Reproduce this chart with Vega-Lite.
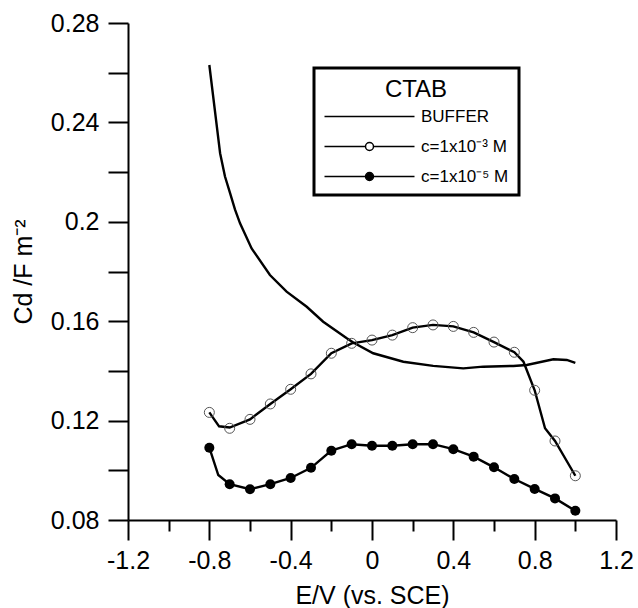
{
  "$schema": "https://vega.github.io/schema/vega-lite/v6.json",
  "width": 488,
  "height": 497,
  "autosize": {"type": "none"},
  "padding": {"left": 128, "top": 23, "right": 22, "bottom": 88},
  "config": {
    "view": {"stroke": null},
    "font": "Liberation Sans",
    "legend": {"strokeWidth": 3},
    "axis": {
      "domainColor": "black", "domainWidth": 2, "tickColor": "black", "tickWidth": 2,
      "labelColor": "black", "titleColor": "black", "labelFontSize": 25, "titleFontSize": 25,
      "titleFontWeight": "normal", "grid": false, "labelFont": "Liberation Sans", "titleFont": "Liberation Sans",
      "labelOverlap": false, "labelFlush": false
    }
  },
  "datasets": {
    "curves": [
      {"series": "BUFFER", "E": -0.8, "C": 0.2631},
      {"series": "BUFFER", "E": -0.747, "C": 0.2276},
      {"series": "BUFFER", "E": -0.723, "C": 0.2182},
      {"series": "BUFFER", "E": -0.698, "C": 0.2115},
      {"series": "BUFFER", "E": -0.674, "C": 0.205},
      {"series": "BUFFER", "E": -0.649, "C": 0.1994},
      {"series": "BUFFER", "E": -0.592, "C": 0.1893},
      {"series": "BUFFER", "E": -0.502, "C": 0.1786},
      {"series": "BUFFER", "E": -0.42, "C": 0.1719},
      {"series": "BUFFER", "E": -0.321, "C": 0.1658},
      {"series": "BUFFER", "E": -0.24, "C": 0.1598},
      {"series": "BUFFER", "E": -0.124, "C": 0.1531},
      {"series": "BUFFER", "E": -0.092, "C": 0.1514},
      {"series": "BUFFER", "E": 0.006, "C": 0.1471},
      {"series": "BUFFER", "E": 0.154, "C": 0.1437},
      {"series": "BUFFER", "E": 0.301, "C": 0.142},
      {"series": "BUFFER", "E": 0.449, "C": 0.141},
      {"series": "BUFFER", "E": 0.547, "C": 0.1417},
      {"series": "BUFFER", "E": 0.695, "C": 0.142},
      {"series": "BUFFER", "E": 0.761, "C": 0.1424},
      {"series": "BUFFER", "E": 0.892, "C": 0.1447},
      {"series": "BUFFER", "E": 0.958, "C": 0.1444},
      {"series": "BUFFER", "E": 1.0, "C": 0.1432},
      {"series": "c=1x10⁻³ M", "E": -0.8, "C": 0.1233},
      {"series": "c=1x10⁻³ M", "E": -0.752, "C": 0.1177},
      {"series": "c=1x10⁻³ M", "E": -0.7, "C": 0.1172},
      {"series": "c=1x10⁻³ M", "E": -0.6, "C": 0.1205},
      {"series": "c=1x10⁻³ M", "E": -0.5, "C": 0.1267},
      {"series": "c=1x10⁻³ M", "E": -0.4, "C": 0.1326},
      {"series": "c=1x10⁻³ M", "E": -0.3, "C": 0.1388},
      {"series": "c=1x10⁻³ M", "E": -0.2, "C": 0.1471},
      {"series": "c=1x10⁻³ M", "E": -0.1, "C": 0.1511},
      {"series": "c=1x10⁻³ M", "E": 0.0, "C": 0.1524},
      {"series": "c=1x10⁻³ M", "E": 0.1, "C": 0.1544},
      {"series": "c=1x10⁻³ M", "E": 0.2, "C": 0.1574},
      {"series": "c=1x10⁻³ M", "E": 0.3, "C": 0.1585},
      {"series": "c=1x10⁻³ M", "E": 0.4, "C": 0.1579},
      {"series": "c=1x10⁻³ M", "E": 0.5, "C": 0.1555},
      {"series": "c=1x10⁻³ M", "E": 0.6, "C": 0.1516},
      {"series": "c=1x10⁻³ M", "E": 0.7, "C": 0.1475},
      {"series": "c=1x10⁻³ M", "E": 0.745, "C": 0.1437},
      {"series": "c=1x10⁻³ M", "E": 0.8, "C": 0.1322},
      {"series": "c=1x10⁻³ M", "E": 0.851, "C": 0.1169},
      {"series": "c=1x10⁻³ M", "E": 0.9, "C": 0.1118},
      {"series": "c=1x10⁻³ M", "E": 1.0, "C": 0.0978},
      {"series": "c=1x10⁻⁵ M", "E": -0.8, "C": 0.1091},
      {"series": "c=1x10⁻⁵ M", "E": -0.756, "C": 0.0981},
      {"series": "c=1x10⁻⁵ M", "E": -0.7, "C": 0.0944},
      {"series": "c=1x10⁻⁵ M", "E": -0.6, "C": 0.0924},
      {"series": "c=1x10⁻⁵ M", "E": -0.5, "C": 0.0944},
      {"series": "c=1x10⁻⁵ M", "E": -0.4, "C": 0.0969},
      {"series": "c=1x10⁻⁵ M", "E": -0.3, "C": 0.101},
      {"series": "c=1x10⁻⁵ M", "E": -0.2, "C": 0.1079},
      {"series": "c=1x10⁻⁵ M", "E": -0.1, "C": 0.1105},
      {"series": "c=1x10⁻⁵ M", "E": 0.0, "C": 0.1099},
      {"series": "c=1x10⁻⁵ M", "E": 0.1, "C": 0.1099},
      {"series": "c=1x10⁻⁵ M", "E": 0.2, "C": 0.1105},
      {"series": "c=1x10⁻⁵ M", "E": 0.3, "C": 0.1105},
      {"series": "c=1x10⁻⁵ M", "E": 0.4, "C": 0.1085},
      {"series": "c=1x10⁻⁵ M", "E": 0.5, "C": 0.1055},
      {"series": "c=1x10⁻⁵ M", "E": 0.6, "C": 0.1012},
      {"series": "c=1x10⁻⁵ M", "E": 0.7, "C": 0.0965},
      {"series": "c=1x10⁻⁵ M", "E": 0.8, "C": 0.0925},
      {"series": "c=1x10⁻⁵ M", "E": 0.9, "C": 0.0887},
      {"series": "c=1x10⁻⁵ M", "E": 1.0, "C": 0.0837}
    ],
    "markers": [
      {"series": "c=1x10⁻³ M", "E": -0.8, "C": 0.1233},
      {"series": "c=1x10⁻³ M", "E": -0.7, "C": 0.1169},
      {"series": "c=1x10⁻³ M", "E": -0.6, "C": 0.1205},
      {"series": "c=1x10⁻³ M", "E": -0.5, "C": 0.1267},
      {"series": "c=1x10⁻³ M", "E": -0.4, "C": 0.1326},
      {"series": "c=1x10⁻³ M", "E": -0.3, "C": 0.1388},
      {"series": "c=1x10⁻³ M", "E": -0.2, "C": 0.1471},
      {"series": "c=1x10⁻³ M", "E": -0.1, "C": 0.1511},
      {"series": "c=1x10⁻³ M", "E": 0.0, "C": 0.1524},
      {"series": "c=1x10⁻³ M", "E": 0.1, "C": 0.1544},
      {"series": "c=1x10⁻³ M", "E": 0.2, "C": 0.1574},
      {"series": "c=1x10⁻³ M", "E": 0.3, "C": 0.1585},
      {"series": "c=1x10⁻³ M", "E": 0.4, "C": 0.1579},
      {"series": "c=1x10⁻³ M", "E": 0.5, "C": 0.1555},
      {"series": "c=1x10⁻³ M", "E": 0.6, "C": 0.1516},
      {"series": "c=1x10⁻³ M", "E": 0.7, "C": 0.1475},
      {"series": "c=1x10⁻³ M", "E": 0.8, "C": 0.1322},
      {"series": "c=1x10⁻³ M", "E": 0.9, "C": 0.1118},
      {"series": "c=1x10⁻³ M", "E": 1.0, "C": 0.0978},
      {"series": "c=1x10⁻⁵ M", "E": -0.8, "C": 0.1091},
      {"series": "c=1x10⁻⁵ M", "E": -0.7, "C": 0.0944},
      {"series": "c=1x10⁻⁵ M", "E": -0.6, "C": 0.0924},
      {"series": "c=1x10⁻⁵ M", "E": -0.5, "C": 0.0944},
      {"series": "c=1x10⁻⁵ M", "E": -0.4, "C": 0.0969},
      {"series": "c=1x10⁻⁵ M", "E": -0.3, "C": 0.101},
      {"series": "c=1x10⁻⁵ M", "E": -0.2, "C": 0.1079},
      {"series": "c=1x10⁻⁵ M", "E": -0.1, "C": 0.1105},
      {"series": "c=1x10⁻⁵ M", "E": 0.0, "C": 0.1099},
      {"series": "c=1x10⁻⁵ M", "E": 0.1, "C": 0.1099},
      {"series": "c=1x10⁻⁵ M", "E": 0.2, "C": 0.1105},
      {"series": "c=1x10⁻⁵ M", "E": 0.3, "C": 0.1105},
      {"series": "c=1x10⁻⁵ M", "E": 0.4, "C": 0.1085},
      {"series": "c=1x10⁻⁵ M", "E": 0.5, "C": 0.1055},
      {"series": "c=1x10⁻⁵ M", "E": 0.6, "C": 0.1012},
      {"series": "c=1x10⁻⁵ M", "E": 0.7, "C": 0.0965},
      {"series": "c=1x10⁻⁵ M", "E": 0.8, "C": 0.0925},
      {"series": "c=1x10⁻⁵ M", "E": 0.9, "C": 0.0887},
      {"series": "c=1x10⁻⁵ M", "E": 1.0, "C": 0.0837}
    ]
  },
  "encoding": {
    "x": {
      "field": "E", "type": "quantitative",
      "scale": {"domain": [-1.2, 1.2], "nice": false, "zero": false},
      "axis": {
        "title": "E/V (vs. SCE)",
        "values": [-1.2, -1.0, -0.8, -0.6, -0.4, -0.2, 0, 0.2, 0.4, 0.6, 0.8, 1.0, 1.2],
        "tickSize": {"condition": {"test": "indexof([-1.2,-0.8,-0.4,0,0.4,0.8,1.2], datum.value) >= 0", "value": 20}, "value": 11},
        "labelExpr": "indexof([-1.2,-0.8,-0.4,0,0.4,0.8,1.2], datum.value) >= 0 ? (datum.value < 0 ? '-' : '') + format(abs(datum.value), '~g') : ''",
        "labelPadding": 8,
        "titlePadding": 10
      }
    },
    "y": {
      "field": "C", "type": "quantitative",
      "scale": {"domain": [0.08, 0.28], "nice": false, "zero": false},
      "axis": {
        "title": "Cd /F m⁻²",
        "values": [0.08, 0.1, 0.12, 0.14, 0.16, 0.18, 0.2, 0.22, 0.24, 0.26, 0.28],
        "tickSize": 20,
        "labelExpr": "indexof([0.08,0.12,0.16,0.2,0.24,0.28], datum.value) >= 0 ? format(datum.value, '~g') : ''",
        "labelPadding": 9,
        "titlePadding": 14
      }
    }
  },
  "layer": [
    {
      "data": {"name": "curves"},
      "mark": {"type": "line", "color": "black", "strokeWidth": 2.4},
      "encoding": {"detail": {"field": "series", "type": "nominal"}}
    },
    {
      "data": {"name": "markers"},
      "transform": [{"filter": "datum.series == 'c=1x10⁻³ M'"}],
      "mark": {"type": "point", "shape": "circle", "size": 100, "filled": false, "stroke": "#555555", "strokeWidth": 1, "opacity": 1}
    },
    {
      "data": {"name": "markers"},
      "transform": [{"filter": "datum.series == 'c=1x10⁻⁵ M'"}],
      "mark": {"type": "point", "shape": "circle", "size": 100, "filled": true, "color": "black", "opacity": 1}
    },
    {
      "data": {"name": "curves"},
      "transform": [{"filter": "false"}],
      "mark": {"type": "point", "filled": true, "stroke": "black", "strokeWidth": 2, "opacity": 1},
      "encoding": {
        "shape": {
          "field": "series", "type": "nominal",
          "scale": {
            "domain": ["BUFFER", "c=1x10⁻³ M", "c=1x10⁻⁵ M"],
            "range": [
              "M-9,0H9",
              "M-9,0H-0.8M0.8,0H9M0.8,0A0.8,0.8,0,1,1,-0.8,0A0.8,0.8,0,1,1,0.8,0Z",
              "M-9,0H9M0.8,0A0.8,0.8,0,1,1,-0.8,0A0.8,0.8,0,1,1,0.8,0Z"
            ]
          },
          "legend": {
            "title": "CTAB", "orient": "none", "legendX": 186, "legendY": 45,
            "strokeColor": "black", "fillColor": "white", "padding": 10,
            "titleFontSize": 24, "titleFontWeight": "normal", "titleAnchor": "middle", "titlePadding": 6,
            "titleColor": "black", "titleFont": "Liberation Sans",
            "labelFontSize": 17, "labelOffset": 43, "labelColor": "black", "labelFont": "Liberation Sans",
            "symbolSize": 100, "symbolOffset": 37, "rowPadding": 12,
            "encode": {
              "symbols": {"update": {"stroke": {"value": "black"}, "strokeWidth": {"value": 2}, "opacity": {"value": 1}}}
            }
          }
        },
        "fill": {
          "field": "series", "type": "nominal",
          "scale": {"domain": ["BUFFER", "c=1x10⁻³ M", "c=1x10⁻⁵ M"], "range": ["white", "white", "black"]},
          "legend": {"title": "CTAB"}
        }
      }
    }
  ]
}
